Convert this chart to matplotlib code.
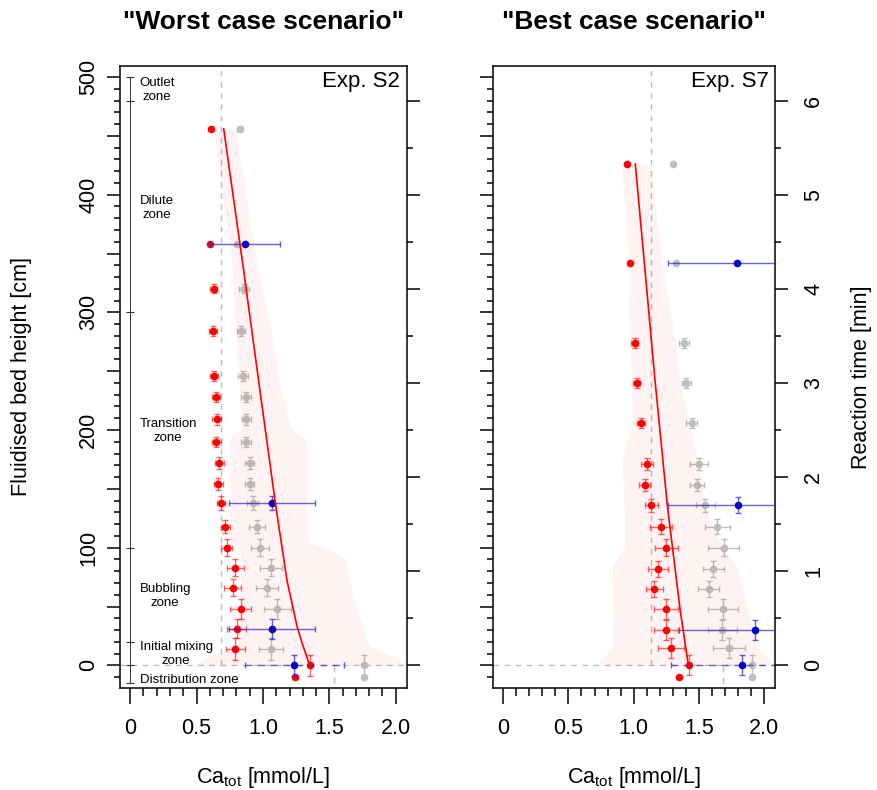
import matplotlib
matplotlib.use('Agg')
import matplotlib.pyplot as plt
from matplotlib.ticker import MultipleLocator
import numpy as np

# Fonts: Helvetica-like, mathtext for the subscript
plt.rcParams['font.family'] = ['Liberation Sans', 'DejaVu Sans']
plt.rcParams['mathtext.fontset'] = 'custom'
plt.rcParams['mathtext.rm'] = 'Liberation Sans'
plt.rcParams['mathtext.it'] = 'Liberation Sans:italic'

#############################
# DATA
#############################

titles = ['"Worst case scenario"', '"Best case scenario"']
exp_labels = ['Exp. S2', 'Exp. S7']
x_label = 'Ca$_{\\mathrm{tot}}$ [mmol/L]'
y_label = 'Fluidised bed height [cm]'
t_label = 'Reaction time [min]'

x_ticks = [0, 0.5, 1.0, 1.5, 2.0]
x_tick_labels = ['0', '0.5', '1.0', '1.5', '2.0']
y_ticks = [0, 50, 100, 150, 200, 250, 300, 350, 400, 450, 500]
y_tick_labels = ['0', '', '100', '', '200', '', '300', '', '400', '', '500']
t_ticks = [0, 1, 2, 3, 4, 5, 6]
t_tick_labels = ['0', '1', '2', '3', '4', '5', '6']
cm_per_min = 80.0

# Worst case (Exp. S2)
h_S2 = [456, 358, 320, 284, 246, 228, 209, 190, 172, 154, 138, 118, 100, 83, 66, 48, 31, 14, 0, -10]
red_S2 = [0.608, 0.598, 0.628, 0.620, 0.628, 0.646, 0.651, 0.648, 0.669, 0.663,
          0.681, 0.716, 0.726, 0.792, 0.771, 0.832, 0.801, 0.792, 1.355, 1.244]
red_xerr_S2 = [0, 0, 0.028, 0.03, 0.03, 0.033, 0.032, 0.032, 0.034, 0.034,
               0.03, 0.035, 0.041, 0.063, 0.063, 0.078, 0.069, 0.069, 0, 0]
red_yerr_S2 = [0, 0, 3.8, 4, 4.3, 4.5, 4.7, 4.3, 5.2, 5.2,
               5.7, 5.7, 7.4, 7, 7.4, 8.8, 8, 9.3, 9, 0]
grey_S2 = [0.824, 0.804, 0.854, 0.835, 0.847, 0.869, 0.874, 0.874, 0.899, 0.899,
           0.922, 0.957, 0.975, 1.058, 1.033, 1.108, np.nan, 1.058, 1.762, 1.762]
grey_xerr_S2 = [0.02, 0, 0.038, 0.032, 0.038, 0.038, 0.034, 0.039, 0.032, 0.034,
                0.04, 0.06, 0.067, 0.084, 0.083, 0.1, 0, 0.09, 0, 0]
grey_yerr_S2 = [0, 0, 3.8, 4, 4.3, 4.5, 4.7, 4.3, 5.2, 5.2,
                5.7, 5.7, 7.4, 7, 7.4, 8.8, 0, 9.3, 9, 0]
blue_h_S2 = [358, 138, 31, 0]
blue_S2 = [0.862, 1.068, 1.068, 1.236]
blue_xerr_S2 = [0.264, 0.324, 0.324, 0.373]
blue_yerr_S2 = [0, 5.7, 8.5, 9]
model_h_S2 = [456, 336, 242, 138, 72, 33, 19, 0]
model_S2 = [0.704, 0.854, 0.967, 1.093, 1.181, 1.257, 1.294, 1.352]
band_h_S2 = [456, 336, 285, 242, 214, 200, 192, 105, 100, 90, 58, 16, 8, 0]
band_lo_S2 = [0.63, 0.77, 0.79, 0.82, 0.83, 0.83, 0.75, 0.75, 0.83, 0.83, 0.83, 0.80, 0.60, 0.47]
band_hi_S2 = [0.79, 0.96, 1.06, 1.12, 1.18, 1.22, 1.33, 1.33, 1.47, 1.62, 1.68, 1.80, 1.98, 2.08]
ref_top_S2 = 0.684
ref_bottom_S2 = 1.533

# Best case (Exp. S7)
h_S7 = [426, 342, 274, 240, 206, 171, 153, 136, 118, 100, 82, 65, 48, 30, 15, 0, -10]
red_S7 = [0.946, 0.968, 1.007, 1.022, 1.055, 1.101, 1.083, 1.134, 1.208, 1.249,
          1.188, 1.157, 1.247, 1.244, 1.283, 1.423, 1.346]
red_xerr_S7 = [0, 0, 0.028, 0.028, 0.03, 0.047, 0.04, 0.05, 0.083, 0.09,
               0.077, 0.066, 0.092, 0.092, 0.1, 0, 0]
red_yerr_S7 = [0, 0, 4, 4, 4, 5, 5, 5.5, 6, 7,
               7, 7, 8.5, 8.5, 8.5, 8.5, 0]
grey_S7 = [1.298, 1.326, 1.385, 1.402, 1.444, 1.500, 1.482, 1.546, 1.640, 1.689,
           1.609, 1.574, 1.684, 1.678, 1.730, 1.906, 1.906]
grey_xerr_S7 = [0, 0, 0.036, 0.036, 0.043, 0.066, 0.054, 0.073, 0.098, 0.117,
                0.082, 0.08, 0.115, 0.11, 0.124, 0, 0]
grey_yerr_S7 = [0, 0, 4, 4, 4, 5, 5, 5.5, 6, 7,
                7, 7, 8.5, 8.5, 8.5, 8.5, 0]
blue_h_S7 = [342, 136, 30, 0]
blue_S7 = [1.793, 1.796, 1.929, 1.831]
blue_xerr_S7 = [0.533, 0.536, 0.583, 0.548]
blue_yerr_S7 = [0, 6.8, 8.5, 8.5]
model_h_S7 = [426, 336, 242, 136, 48, 0]
model_S7 = [1.012, 1.086, 1.163, 1.257, 1.354, 1.418]
band_h_S7 = [426, 336, 293, 242, 211, 190, 172, 129, 100, 84, 16, 0]
band_lo_S7 = [0.907, 0.966, 0.965, 0.984, 0.99, 0.95, 0.91, 0.93, 0.93, 0.83, 0.84, 0.716]
band_hi_S7 = [1.124, 1.226, 1.29, 1.354, 1.41, 1.45, 1.494, 1.558, 1.68, 1.788, 1.942, 2.09]
ref_top_S7 = 1.132
ref_bottom_S7 = 1.681

# Reactor zones (left panel)
zone_bounds = [500, 480, 300, 100, 20, 0, -15]
zone_labels = ['Outlet\nzone', 'Dilute\nzone', 'Transition\nzone', 'Bubbling\nzone',
               'Initial mixing\nzone', 'Distribution zone']
zone_label_h = [489, 389, 199, 59, 9.5, -12.5]

#############################
# PLOTTING
#############################

xlim = (-0.077, 2.081)
ylim = (-19.5, 509.6)
W, H = 877, 790
fs = 15.5

fig = plt.figure(figsize=(W / 100, H / 100), dpi=100)
axL = fig.add_axes([120 / W, 1 - 688.3 / H, 286.5 / W, 622.6 / H])
axR = fig.add_axes([493 / W, 1 - 688.3 / H, 282 / W, 622.6 / H])

red_bar = (1, 0, 0, 0.6)
grey_bar = (0.6, 0.6, 0.6, 0.6)
blue_bar = (0.1, 0.15, 0.85, 0.7)


def draw_panel(ax, h, red, red_xerr, red_yerr, grey, grey_xerr, grey_yerr,
               blue_h, blue, blue_xerr, blue_yerr, model_h, model,
               band_h, band_lo, band_hi, ref_top, ref_bottom, exp_label, time_labels):
    h = np.array(h, dtype=float)
    grey = np.array(grey, dtype=float)

    # reference lines
    ax.plot([ref_top, ref_top], [0, 600], color='#BEBEBE', lw=1, dashes=(4, 4), zorder=1)
    ax.plot([ref_bottom, ref_bottom], [-100, 0], color='#BEBEBE', lw=1, dashes=(4, 4), zorder=1)
    ax.axhline(0, color='#BEBEBE', lw=1, dashes=(4, 4), zorder=1)

    # grey points
    ok = ~np.isnan(grey)
    ax.errorbar(grey[ok], h[ok], xerr=np.array(grey_xerr)[ok], yerr=np.array(grey_yerr)[ok],
                fmt='none', ecolor=grey_bar, elinewidth=1, capsize=2, capthick=1, zorder=2)
    ax.plot(grey, h, 'o', color='#BEBEBE', ms=5.5, mec='none', zorder=3)

    # red points
    ax.errorbar(red, h, xerr=red_xerr, yerr=red_yerr, fmt='none', ecolor=red_bar,
                elinewidth=1, capsize=2, capthick=1, zorder=2)
    ax.plot(red, h, 'o', color='red', ms=5.5, mec='none', zorder=3)

    # blue points, the lowest one with a dashed bar
    ax.errorbar(blue[:-1], blue_h[:-1], xerr=blue_xerr[:-1], yerr=blue_yerr[:-1], fmt='none',
                ecolor=blue_bar, elinewidth=1, capsize=2, capthick=1, zorder=4)
    eb = ax.errorbar(blue[-1:], blue_h[-1:], xerr=blue_xerr[-1:], yerr=blue_yerr[-1:], fmt='none',
                     ecolor=blue_bar, elinewidth=1, capsize=2, capthick=1, zorder=4)
    eb[2][0].set_linestyle((0, (5, 4)))
    ax.plot(blue, blue_h, 'o', color='#0000CD', ms=5.5, mec='none', zorder=4)

    # model line and envelope
    ax.plot(model, model_h, color='red', lw=1.2, zorder=4)
    ax.fill_betweenx(band_h, band_lo, band_hi, color='red', alpha=0.05, lw=0, zorder=5)

    ax.text(0.978, 0.992, exp_label, transform=ax.transAxes, ha='right', va='top', fontsize=16)

    ax.set_xlim(*xlim)
    ax.set_ylim(*ylim)
    ax.set_xticks(x_ticks, x_tick_labels)
    ax.xaxis.set_minor_locator(MultipleLocator(0.1))
    ax.set_yticks(y_ticks, y_tick_labels)
    ax.yaxis.set_minor_locator(MultipleLocator(10))
    ax.tick_params(axis='x', which='major', length=11.5, width=1.1, labelsize=fs, pad=10)
    ax.tick_params(axis='x', which='minor', length=5.8, width=1.1)
    ax.tick_params(axis='y', which='major', length=9.4, width=1.1, labelsize=fs, pad=5.5)
    ax.tick_params(axis='y', which='minor', length=4.3, width=1.1)
    for lab in ax.get_yticklabels():
        lab.set_rotation(90)
        lab.set_va('center')
    for s in ax.spines.values():
        s.set_linewidth(1.1)

    # reaction time axis
    ax2 = ax.twinx()
    ax2.set_ylim(ylim[0] / cm_per_min, ylim[1] / cm_per_min)
    ax2.set_yticks(t_ticks, t_tick_labels if time_labels else [''] * len(t_ticks))
    ax2.yaxis.set_minor_locator(MultipleLocator(0.5))
    ax2.tick_params(axis='y', which='major', length=9.4, width=1.1, labelsize=fs, pad=11)
    ax2.tick_params(axis='y', which='minor', length=4.5, width=1.1)
    for lab in ax2.get_yticklabels():
        lab.set_rotation(90)
        lab.set_va('center')
    for s in ax2.spines.values():
        s.set_visible(False)
    return ax2


draw_panel(axL, h_S2, red_S2, red_xerr_S2, red_yerr_S2, grey_S2, grey_xerr_S2, grey_yerr_S2,
           blue_h_S2, blue_S2, blue_xerr_S2, blue_yerr_S2, model_h_S2, model_S2,
           band_h_S2, band_lo_S2, band_hi_S2, ref_top_S2, ref_bottom_S2, exp_labels[0], False)
draw_panel(axR, h_S7, red_S7, red_xerr_S7, red_yerr_S7, grey_S7, grey_xerr_S7, grey_yerr_S7,
           blue_h_S7, blue_S7, blue_xerr_S7, blue_yerr_S7, model_h_S7, model_S7,
           band_h_S7, band_lo_S7, band_hi_S7, ref_top_S7, ref_bottom_S7, exp_labels[1], True)
axR.tick_params(axis='y', which='both', labelleft=False)

# zone bar on the left panel
axL.plot([0, 0], [zone_bounds[-1], zone_bounds[0]], color='#333333', lw=0.7, zorder=2)
axL.plot(np.zeros(len(zone_bounds)), zone_bounds, ls='none', marker='_', ms=6, mew=0.8,
         color='#333333', zorder=2)
for lab, zh in zip(zone_labels, zone_label_h):
    axL.text(0.07, zh, lab, ha='left', va='center', multialignment='center', fontsize=9.5)

# titles and axis labels
for ax, t in zip([axL, axR], titles):
    xc = (ax.get_position().x0 + ax.get_position().x1) / 2
    fig.text(xc, 1 - 22 / H, t, ha='center', va='center', fontsize=19, fontweight='bold')
    fig.text(xc, 1 - 777 / H, x_label, ha='center', va='center', fontsize=fs)
fig.text(22 / W, 1 - 377 / H, y_label, rotation=90, ha='center', va='center', fontsize=fs)
fig.text(861 / W, 1 - 377 / H, t_label, rotation=90, ha='center', va='center', fontsize=fs)

plt.savefig('out.png', dpi=100)
